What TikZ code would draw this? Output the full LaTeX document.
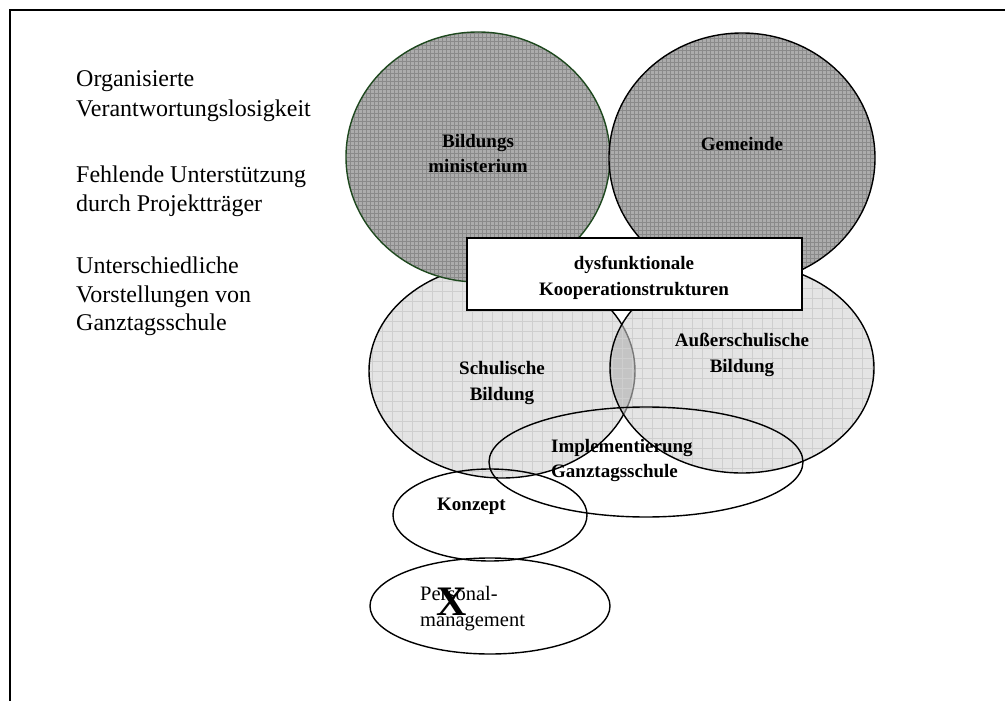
\documentclass[tikz,border=0pt]{standalone}
\usepackage{fontspec}
\setmainfont{Liberation Serif}
\usetikzlibrary{shapes.geometric}
\definecolor{lightbase}{RGB}{228,228,228}
\definecolor{lightgrid}{RGB}{206,206,206}
\definecolor{lensbase}{RGB}{196,196,196}
\definecolor{lensline}{RGB}{120,120,120}
\definecolor{darkbase}{RGB}{172,172,172}
\definecolor{darkgrid}{RGB}{138,138,138}
\definecolor{hiddenline}{RGB}{150,150,150}
\definecolor{bmgreen}{RGB}{30,72,30}
\begin{document}
\begin{tikzpicture}[x=1pt,y=-1pt,
  outline/.style={line width=1.4pt},
  oval/.style={ellipse, inner sep=0pt, outer sep=0pt, outline, draw=black},
  lightgridpic/.style={path picture={\draw[lightgrid, line width=0.8pt] (path picture bounding box.south west) grid[step=10pt] (path picture bounding box.north east);}},
  lefttext/.style={anchor=base west, inner sep=0pt, font=\fontsize{24}{30}\selectfont},
  boldlabel/.style={anchor=base, inner sep=0pt, font=\fontsize{19}{25}\selectfont\bfseries},
  boldlabelw/.style={anchor=base west, inner sep=0pt, font=\fontsize{19}{25}\selectfont\bfseries},
  plainlabelw/.style={anchor=base west, inner sep=0pt, font=\fontsize{20.5}{26}\selectfont},
]
\useasboundingbox (0,0) rectangle (1005,701);
% frame
\coordinate (fbl) at (10,701);
\coordinate (ftl) at (10,10);
\coordinate (ftr) at (1005,10);
\draw[line width=1.5pt] (fbl) -- (ftl) -- (ftr);

% centres
\coordinate (sbc) at (502,371);
\coordinate (abc) at (742,368);

% Schulische Bildung
\node[oval, fill=lightbase, lightgridpic, minimum width=266pt, minimum height=214pt] (sb) at (sbc) {};
% Ausserschulische Bildung with lens
\node[oval, fill=lightbase, minimum width=264pt, minimum height=210pt,
  path picture={
    \fill[lensbase] (sbc) ellipse [x radius=133, y radius=107];
    \draw[lightgrid, line width=0.8pt] (path picture bounding box.south west) grid[step=10pt] (path picture bounding box.north east);
    \draw[lensline, line width=1.4pt] (sbc) ellipse [x radius=133, y radius=107];
  }] (ab) at (abc) {};

% Bildungsministerium
\node[oval, draw=bmgreen, fill=darkbase, minimum width=264pt, minimum height=250pt,
  path picture={
    \draw[darkgrid, line width=0.6pt] (path picture bounding box.south west) grid[step=4pt] (path picture bounding box.north east);
    \draw[hiddenline, line width=0.8pt, dash pattern=on 3pt off 2pt] (sbc) ellipse [x radius=133, y radius=107];
  }] (bm) at (478,157) {};
% Gemeinde
\node[oval, fill=darkbase, minimum width=266pt, minimum height=250pt,
  path picture={
    \draw[darkgrid, line width=0.6pt] (path picture bounding box.south west) grid[step=4pt] (path picture bounding box.north east);
  }] (gm) at (742,158) {};

% Implementierung, Konzept, Personal
\node[oval, minimum width=314pt, minimum height=110pt] (ig) at (646,462) {};
\node[oval, minimum width=194pt, minimum height=92pt] (ko) at (490,515) {};
\node[oval, minimum width=240pt, minimum height=96pt] (pm) at (490,606) {};

% box
\node[draw=black, outline, fill=white, minimum width=335pt, minimum height=72pt, inner sep=0pt] (box) at (634.5,274) {};

% left texts
\node[lefttext] (l1a) at (76,87) {Organisierte};
\node[lefttext] (l1b) at (76,117) {Verantwortungslosigkeit};
\node[lefttext] (l2a) at (76,182) {Fehlende Unterstützung};
\node[lefttext] (l2b) at (76,211) {durch Projektträger};
\node[lefttext] (l3a) at (76,273) {Unterschiedliche};
\node[lefttext] (l3b) at (76,302) {Vorstellungen von};
\node[lefttext] (l3c) at (76,330) {Ganztagsschule};

% labels
\node[boldlabel] (bm1) at (478,147) {Bildungs};
\node[boldlabel] (bm2) at (478,172) {ministerium};
\node[boldlabel] (gm1) at (742,150) {Gemeinde};
\node[boldlabel] (bx1) at (634,269) {dysfunktionale};
\node[boldlabel] (bx2) at (634,295) {Kooperationstrukturen};
\node[boldlabel] (sb1) at (502,374) {Schulische};
\node[boldlabel] (sb2) at (502,400) {Bildung};
\node[boldlabel] (ab1) at (742,346) {Außerschulische};
\node[boldlabel] (ab2) at (742,372) {Bildung};
\node[boldlabelw] (ig1) at (551,452) {Implementierung};
\node[boldlabelw] (ig2) at (551,477) {Ganztagsschule};
\node[boldlabelw] (ko1) at (437,510) {Konzept};
\node[plainlabelw] (pm1) at (420,600) {Personal-};
\node[plainlabelw] (pm2) at (420,626) {management};
\node[anchor=base, inner sep=0pt, font=\fontsize{42}{42}\selectfont\bfseries] (xx) at (452,615) {X};
\end{tikzpicture}
\end{document}
